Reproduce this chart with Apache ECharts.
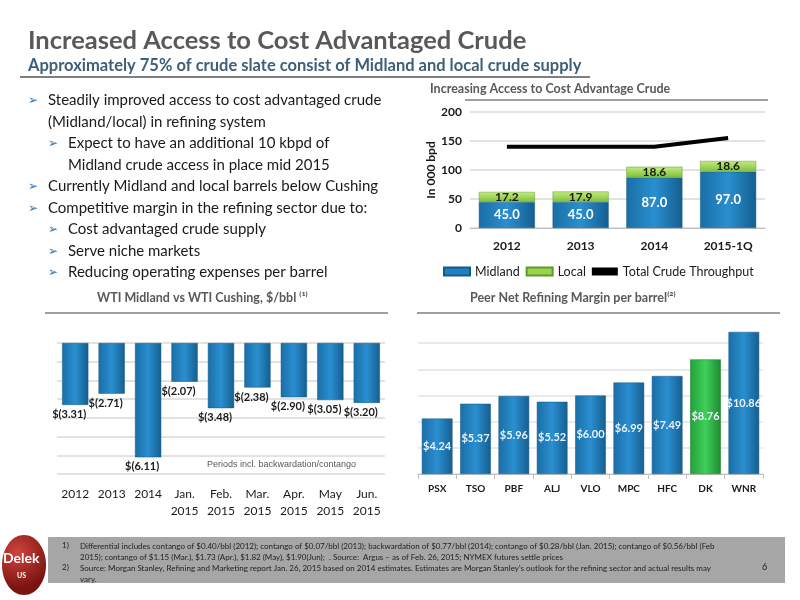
<!DOCTYPE html>
<html>
<head>
<meta charset="utf-8">
<script src="https://cdn.jsdelivr.net/npm/echarts@6/dist/echarts.min.js"></script>
<style>
  html, body { margin: 0; padding: 0; background: #fff; }
  #main { width: 800px; height: 600px; }
</style>
</head>
<body>
<div id="main"></div>
<script>
// ---- data ----
const crudeYears = ['2012', '2013', '2014', '2015-1Q'];
const midland = [45.0, 45.0, 87.0, 97.0];
const local = [17.2, 17.9, 18.6, 18.6];
const throughput = [140, 140, 140, 155];

const wtiPeriods = ['2012', '2013', '2014', 'Jan.\n2015', 'Feb.\n2015', 'Mar.\n2015', 'Apr.\n2015', 'May\n2015', 'Jun.\n2015'];
const wtiDiff = [-3.31, -2.71, -6.11, -2.07, -3.48, -2.38, -2.90, -3.05, -3.20];

const peers = ['PSX', 'TSO', 'PBF', 'ALJ', 'VLO', 'MPC', 'HFC', 'DK', 'WNR'];
const peerMargin = [4.24, 5.37, 5.96, 5.52, 6.00, 6.99, 7.49, 8.76, 10.86];

const bullets = [
  ['Steadily improved access to cost advantaged crude', 0],
  ['(Midland/local) in refining system', 0, true],
  ['Expect to have an additional 10 kbpd of', 1],
  ['Midland crude access in place mid 2015', 1, true],
  ['Currently Midland and local barrels below Cushing', 0],
  ['Competitive margin in the refining sector due to:', 0],
  ['Cost advantaged crude supply', 1],
  ['Serve niche markets', 1],
  ['Reducing operating expenses per barrel', 1],
];

// ---- styles ----
const FONT = 'Lato, "Open Sans", sans-serif';
const blue = new echarts.graphic.LinearGradient(0, 0, 1, 0, [
  { offset: 0, color: '#1a6ea6' }, { offset: 0.5, color: '#2a8fd0' }, { offset: 1, color: '#155e8f' }]);
const green = new echarts.graphic.LinearGradient(0, 0, 0, 1, [
  { offset: 0, color: '#c3ec7f' }, { offset: 1, color: '#7fbf3a' }]);
const dkGreen = new echarts.graphic.LinearGradient(0, 0, 1, 0, [
  { offset: 0, color: '#22a03a' }, { offset: 0.5, color: '#3fcf5a' }, { offset: 1, color: '#1c8a30' }]);
const gridLine = { show: true, lineStyle: { color: '#d9d9d9', width: 1.5 } };

// ---- text graphics ----
const graphics = [
  { type: 'text', left: 28, top: 28, style: { text: 'Increased Access to Cost Advantaged Crude', font: 'bold 25.5px ' + FONT, fill: '#595959' } },
  { type: 'text', left: 28, top: 57, style: { text: 'Approximately 75% of crude slate consist of Midland and local crude supply', font: 'bold 16.5px ' + FONT, fill: '#3d5f78' } },
  { type: 'line', shape: { x1: 20, y1: 77, x2: 590, y2: 77 }, style: { stroke: '#7f7f7f', lineWidth: 2 } },
  { type: 'text', left: 430, top: 82, style: { text: 'Increasing Access to Cost Advantage Crude', font: 'bold 12.5px ' + FONT, fill: '#595959' } },
  { type: 'line', shape: { x1: 465, y1: 100, x2: 768, y2: 100 }, style: { stroke: '#7f7f7f', lineWidth: 1.5 } },
  { type: 'text', left: 97, top: 291, style: { text: 'WTI Midland vs WTI Cushing, $/bbl ⁽¹⁾', font: 'bold 12.5px ' + FONT, fill: '#595959' } },
  { type: 'line', shape: { x1: 45, y1: 313, x2: 388, y2: 313 }, style: { stroke: '#7f7f7f', lineWidth: 1.5 } },
  { type: 'text', left: 470, top: 291, style: { text: 'Peer Net Refining Margin per barrel⁽²⁾', font: 'bold 12.5px ' + FONT, fill: '#595959' } },
  { type: 'line', shape: { x1: 417, y1: 313, x2: 780, y2: 313 }, style: { stroke: '#7f7f7f', lineWidth: 1.5 } },
  { type: 'text', left: 207, top: 460, style: { text: 'Periods incl. backwardation/contango', font: '9px Arial, sans-serif', fill: '#595959' } },
  { type: 'rect', shape: { x: 48, y: 537, width: 737, height: 46 }, style: { fill: '#a6a6a6' } },
  { type: 'text', left: 62, top: 541, style: { text: '1)', font: '8px ' + FONT, fill: '#222' } },
  { type: 'text', left: 80, top: 541, style: { text: 'Differential includes contango of $0.40/bbl (2012); contango of $0.07/bbl (2013); backwardation of $0.77/bbl (2014); contango of $0.28/bbl (Jan. 2015); contango of $0.56/bbl (Feb\n2015); contango of $1.15 (Mar.), $1.73 (Apr.), $1.82 (May), $1.90(Jun);  . Source:  Argus – as of Feb. 26, 2015; NYMEX futures settle prices', font: '8px ' + FONT, fill: '#222', lineHeight: 11 } },
  { type: 'text', left: 62, top: 563, style: { text: '2)', font: '8px ' + FONT, fill: '#222' } },
  { type: 'text', left: 80, top: 563, style: { text: 'Source: Morgan Stanley, Refining and Marketing report Jan. 26, 2015 based on 2014 estimates. Estimates are Morgan Stanley\'s outlook for the refining sector and actual results may\nvary.', font: '8px ' + FONT, fill: '#222', lineHeight: 11 } },
  { type: 'text', left: 762, top: 563, style: { text: '6', font: '9px ' + FONT, fill: '#222' } },
  { type: 'ellipse', shape: { cx: 24, cy: 565, rx: 22, ry: 30 }, style: { fill: new echarts.graphic.RadialGradient(0.35, 0.3, 0.8, [{ offset: 0, color: '#d0443f' }, { offset: 1, color: '#7a1410' }]) } },
  { type: 'text', left: 3, top: 551, style: { text: 'Delek', font: 'bold 14px ' + FONT, fill: '#fff' } },
  { type: 'text', left: 17, top: 572, style: { text: 'US', font: 'bold 7px ' + FONT, fill: '#fff' } },
];
let by = 93;
bullets.forEach(([t, lvl, cont]) => {
  const x = lvl ? 48 : 28;
  if (!cont) graphics.push({ type: 'text', left: x, top: by + 2, style: { text: '➢', font: '12px "DejaVu Sans"', fill: '#2e75b6' } });
  graphics.push({ type: 'text', left: x + 20, top: by, style: { text: t, font: '15px ' + FONT, fill: '#1a1a1a' } });
  by += 21.5;
});

const chart = echarts.init(document.getElementById('main'));
chart.setOption({
  animation: false,
  textStyle: { fontFamily: FONT },
  graphic: graphics,
  grid: [
    { left: 470, top: 112, width: 295, height: 116 },
    { left: 57, top: 343, width: 328, height: 131 },
    { left: 418, top: 317, width: 345, height: 157 },
  ],
  legend: {
    top: 260, left: 438, itemWidth: 26, itemHeight: 8, itemGap: 6,
    textStyle: { fontSize: 12.5, color: '#1a1a1a' },
    data: [
      { name: 'Midland', icon: 'rect', itemStyle: { color: '#1f80c0' } },
      { name: 'Local', icon: 'rect', itemStyle: { color: '#9bd34f' } },
      { name: 'Total Crude Throughput', icon: 'rect', itemStyle: { color: '#000' }, itemHeight: 4 },
    ],
  },
  xAxis: [
    { gridIndex: 0, type: 'category', data: crudeYears, axisLine: { lineStyle: { color: '#bfbfbf' } }, axisTick: { show: false },
      axisLabel: { color: '#1a1a1a', fontSize: 12, fontWeight: 'bold', margin: 12 } },
    { gridIndex: 1, type: 'category', data: wtiPeriods, axisLine: { show: false }, axisTick: { show: false },
      axisLabel: { color: '#1a1a1a', fontSize: 12, margin: 12, lineHeight: 17 } },
    { gridIndex: 2, type: 'category', data: peers, axisLine: { lineStyle: { color: '#bfbfbf' } }, axisTick: { show: true, lineStyle: { color: '#bfbfbf' } },
      axisLabel: { color: '#1a1a1a', fontSize: 10, fontWeight: 'bold', margin: 10 } },
  ],
  yAxis: [
    { gridIndex: 0, type: 'value', min: 0, max: 200, interval: 50, name: 'In 000 bpd', nameLocation: 'middle', nameGap: 32,
      nameTextStyle: { fontSize: 12, fontWeight: 'bold', color: '#1a1a1a' },
      axisLabel: { color: '#1a1a1a', fontSize: 12, fontWeight: 'bold' }, axisLine: { show: false }, axisTick: { show: false }, splitLine: gridLine },
    { gridIndex: 1, type: 'value', min: -7, max: 0, interval: 1, axisLabel: { show: false }, axisLine: { show: false }, axisTick: { show: false }, splitLine: gridLine },
    { gridIndex: 2, type: 'value', min: 0, max: 12, interval: 2, axisLabel: { show: false }, axisLine: { show: false }, axisTick: { show: false },
      splitLine: { show: true, showMaxLine: false, lineStyle: { color: '#e3e3e3', width: 1.5 } } },
  ],
  series: [
    { name: 'Midland', type: 'bar', stack: 'c', xAxisIndex: 0, yAxisIndex: 0, data: midland, barWidth: '76%',
      itemStyle: { color: blue, borderColor: '#145a8a', borderWidth: 0.5 },
      label: { show: true, position: 'inside', color: '#fff', fontSize: 13, fontWeight: 'bold', formatter: p => p.value.toFixed(1) } },
    { name: 'Local', type: 'bar', stack: 'c', xAxisIndex: 0, yAxisIndex: 0, data: local,
      itemStyle: { color: green, borderColor: '#5e9a2a', borderWidth: 0.5 },
      label: { show: true, position: 'inside', color: '#1a1a1a', fontSize: 12, fontWeight: 'bold', formatter: p => p.value.toFixed(1) } },
    { name: 'Total Crude Throughput', type: 'line', xAxisIndex: 0, yAxisIndex: 0, data: throughput, symbol: 'none',
      lineStyle: { color: '#000', width: 4 }, itemStyle: { color: '#000' } },
    { type: 'bar', xAxisIndex: 1, yAxisIndex: 1, data: wtiDiff, barWidth: '72%',
      itemStyle: { color: blue, borderColor: '#145a8a', borderWidth: 0.5 },
      label: { show: true, position: 'bottom', distance: 4, color: '#1a1a1a', fontSize: 11, fontWeight: 'bold', offset: [-6, 0],
        formatter: p => '$(' + Math.abs(p.value).toFixed(2) + ')' } },
    { type: 'bar', xAxisIndex: 2, yAxisIndex: 2, barWidth: '80%',
      data: peerMargin.map((v, i) => peers[i] === 'DK' ? { value: v, itemStyle: { color: dkGreen, borderColor: '#1c7a2c' } } : v),
      itemStyle: { color: blue, borderColor: '#145a8a', borderWidth: 0.5 },
      label: { show: true, position: 'inside', color: '#e8f2fa', fontSize: 11, fontWeight: 'bold', formatter: p => '$' + p.value.toFixed(2) } },
  ],
});
</script>
</body>
</html>
